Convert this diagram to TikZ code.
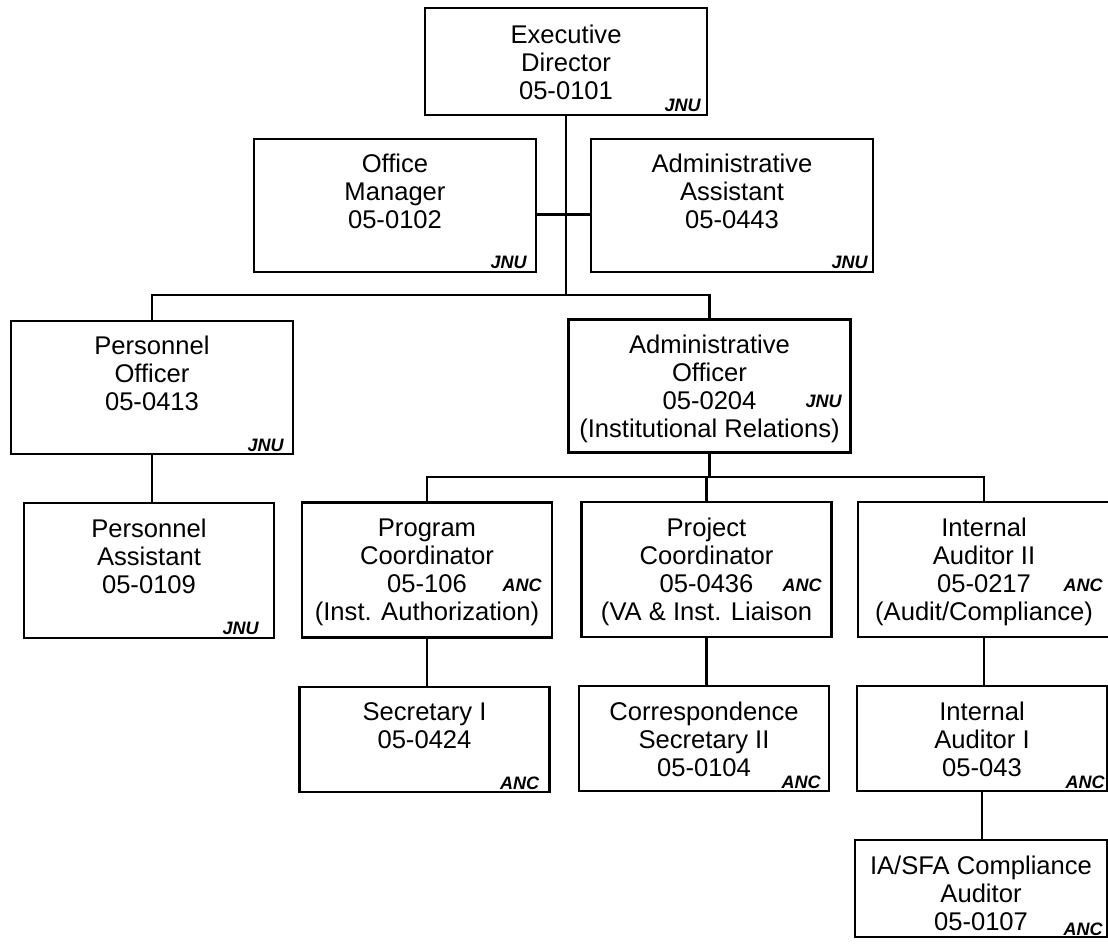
\documentclass[tikz,border=0pt]{standalone}
\usepackage{fontspec}
\setmainfont{Liberation Sans}
\usepackage{tikz}
\usetikzlibrary{positioning}

\tikzset{
  post/.style={draw, line width=1.1pt, inner sep=0pt},
  bigpost/.style={post, minimum width=141pt, minimum height=66.5pt},
  smallpost/.style={post, minimum width=125pt, minimum height=67.5pt},
  lowpost/.style={post, minimum width=125pt, minimum height=52.5pt},
  title/.style={font=\fontsize{12.8}{14}\selectfont, align=center, inner sep=0pt},
  tag/.style={font=\fontsize{9}{10}\selectfont\bfseries\itshape, inner sep=0pt, anchor=base east},
  link/.style={line width=1.1pt}
}

\begin{document}
\begin{tikzpicture}[x=0.5pt, y=-0.5pt]
      % Page
      \useasboundingbox (0,0) rectangle (1108,948);

      % Executive director
      \node[post, minimum width=141pt, minimum height=53.5pt] (ed) at (566,61.5) {};
      \node[title, below=9pt of ed.north] (edname) {Executive\\Director\\05-0101};
      \node[tag] (edtag) at ([xshift=-3.5pt,yshift=2.5pt]ed.south east) {JNU};

      % Office manager and assistant
      \node[bigpost] (om) at (395,205.5) {};
      \node[title, below=8pt of om.north] (omname) {Office\\Manager\\05-0102};
      \node[tag] (omtag) at ([xshift=-5pt,yshift=2.5pt]om.south east) {JNU};

      \node[bigpost] (aa) at (732,205.5) {};
      \node[title, below=8pt of aa.north] (aaname) {Administrative\\Assistant\\05-0443};
      \node[tag] (aatag) at ([xshift=-3pt,yshift=2.5pt]aa.south east) {JNU};

      % Officers
      \node[bigpost] (po) at (152,387.5) {};
      \node[title, below=8pt of po.north] (poname) {Personnel\\Officer\\05-0413};
      \node[tag] (potag) at ([xshift=-5pt,yshift=2pt]po.south east) {JNU};

      \node[bigpost] (ao) at (709.5,386) {};
      \node[title, below=8pt of ao.north] (aoname) {Administrative\\Officer\\05-0204\\(Institutional Relations)};
      \node[tag] (aotag) at (842,407) {JNU};

      % Personnel assistant
      \node[smallpost] (pa) at (149,570.5) {};
      \node[title, below=8.5pt of pa.north] (paname) {Personnel\\Assistant\\05-0109};
      \node[tag] (patag) at ([xshift=-8pt,yshift=2.5pt]pa.south east) {JNU};

      % Coordinators and auditor
      \node[smallpost] (pc) at (427,570) {};
      \node[title, below=8.5pt of pc.north] (pcname) {Program\\Coordinator\\05-106\\(Inst. Authorization)};
      \node[tag] (pctag) at (542,591) {ANC};

      \node[smallpost] (pjc) at (706.5,569.5) {};
      \node[title, below=8.5pt of pjc.north] (pjcname) {Project\\Coordinator\\05-0436\\(VA \& Inst. Liaison};
      \node[tag] (pjctag) at (822,591) {ANC};

      \node[post, minimum width=126pt, minimum height=67.5pt] (iatwo) at (984,569.5) {};
      \node[title, below=8.5pt of iatwo.north] (iatwoname) {Internal\\Auditor II\\05-0217\\(Audit/Compliance)};
      \node[tag] (iatwotag) at (1103,591) {ANC};

      % Secretaries and auditor
      \node[lowpost] (sec) at (424.5,739.5) {};
      \node[title, below=8pt of sec.north] (secname) {Secretary I\\05-0424};
      \node[tag] (sectag) at ([xshift=-5.5pt,yshift=2pt]sec.south east) {ANC};

      \node[lowpost] (cs) at (704,738.5) {};
      \node[title, below=8.5pt of cs.north] (csname) {Correspondence\\Secretary II\\05-0104};
      \node[tag] (cstag) at ([xshift=-4.5pt,yshift=2pt]cs.south east) {ANC};

      \node[lowpost] (iaone) at (982,738.5) {};
      \node[title, below=8.5pt of iaone.north] (iaonename) {Internal\\Auditor I\\05-043};
      \node[tag] (iaonetag) at ([xshift=-1.5pt,yshift=2pt]iaone.south east) {ANC};

      % Compliance auditor
      \node[post, minimum width=126pt, minimum height=48.5pt] (sfa) at (981,888.5) {};
      \node[title, below=8.5pt of sfa.north] (sfaname) {IA/SFA Compliance\\Auditor\\05-0107};
      \node[tag] (sfatag) at ([xshift=-2.5pt,yshift=1.5pt]sfa.south east) {ANC};

      % Lines
      \coordinate (busone) at (563,295);
      \coordinate (bustwo) at (708,477);
      \draw[link] (ed.south) -- (ed.south |- busone);
      \draw[link] ([yshift=-4.5pt]om.east) -- ([yshift=-4.5pt]aa.west);
      \draw[link] (po.north) -- (po.north |- busone) -- (ao.north |- busone) -- (ao.north);
      \draw[link] (po.south) -- (po.south |- pa.north);
      \draw[link] (ao.south) -- (ao.south |- bustwo);
      \draw[link] (pc.north) -- (pc.north |- bustwo) -- (iatwo.north |- bustwo) -- (iatwo.north);
      \draw[link] (pjc.north) -- (pjc.north |- bustwo);
      \draw[link] (pc.south) -- (pc.south |- sec.north);
      \draw[link] (pjc.south) -- (pjc.south |- cs.north);
      \draw[link] (iatwo.south) -- (iatwo.south |- iaone.north);
      \draw[link] (iaone.south) -- (iaone.south |- sfa.north);

  \end{tikzpicture}
\end{document}
